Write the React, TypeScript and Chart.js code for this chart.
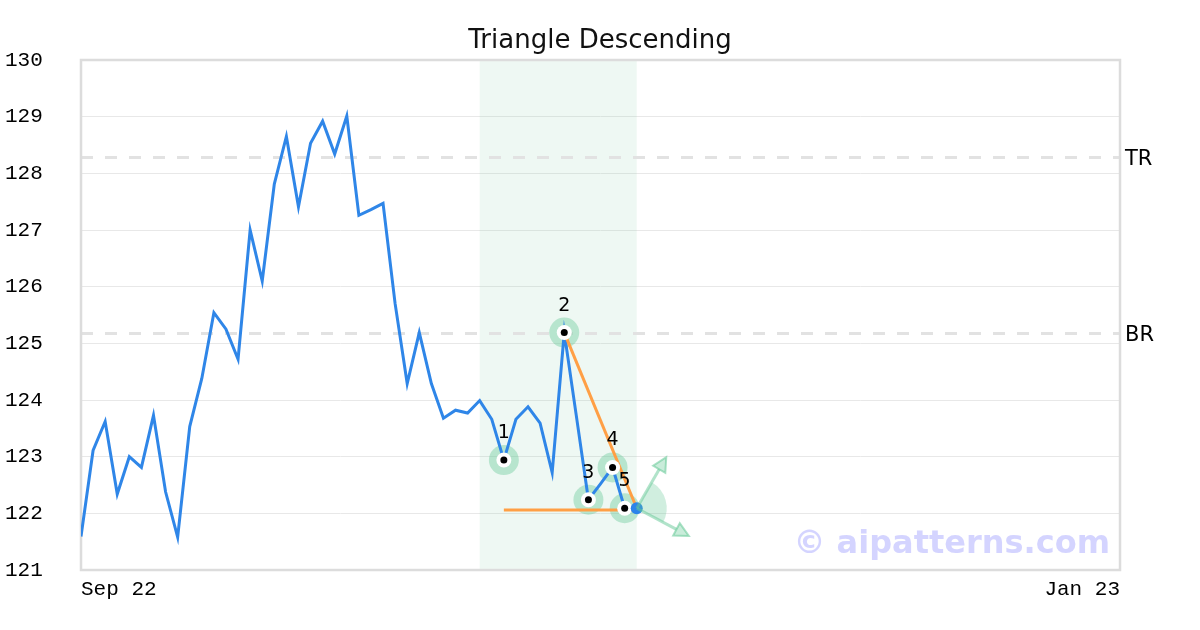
import React, { useEffect, useRef } from "react";
import { Chart, registerables } from "chart.js";

Chart.register(...registerables);

// ---- data ----
const titleText = "Triangle Descending";
const xTickLabels = ["Sep 22", "Jan 23"];
const xTickIndex = [0, 86];
const xMaxIndex = 86;
const yMin = 121;
const yMax = 130;

const prices = [
  121.59, 123.11, 123.62, 122.34, 123.0, 122.81, 123.73, 122.38, 121.58, 123.53,
  124.38, 125.54, 125.25, 124.72, 127.0, 126.1, 127.81, 128.65, 127.41, 128.53,
  128.92, 128.34, 129.01, 127.26, 127.36, 127.47, 125.7, 124.29, 125.19, 124.29,
  123.68, 123.82, 123.77, 123.99, 123.66, 122.94, 123.66, 123.88, 123.59, 122.72,
  125.19, 123.72, 122.24, 122.52, 122.81, 122.09, 122.09,
];

const patternIndex = [35, 40, 42, 44, 45];
const patternLabels = ["1", "2", "3", "4", "5"];

const supportIdx = [35, 46];
const supportVal = [122.06, 122.06];
const resistanceIdx = [40, 46];
const resistanceVal = [125.19, 122.09];

const levelValues = [128.29, 125.18];
const levelLabels = ["TR", "BR"];

const shadeRange = [33, 46];
const watermark = "© aipatterns.com";

// ---- derived ----
const priceData = prices.map((v, i) => ({ x: i, y: v }));
const patternData = patternIndex.map((i) => ({ x: i, y: prices[i] }));
const lastIdx = prices.length - 1;
const lastData = [{ x: lastIdx, y: prices[lastIdx] }];
const supportData = supportIdx.map((i, k) => ({ x: i, y: supportVal[k] }));
const resistanceData = resistanceIdx.map((i, k) => ({ x: i, y: resistanceVal[k] }));

const GREEN = "100,200,150";

function drawArrow(ctx: CanvasRenderingContext2D, x0: number, y0: number, angDeg: number, len: number) {
  const a = (angDeg * Math.PI) / 180;
  const x1 = x0 + Math.cos(a) * len;
  const y1 = y0 + Math.sin(a) * len;
  const headLen = 14;
  const headW = 7;
  const bx = x1 - Math.cos(a) * headLen;
  const by = y1 - Math.sin(a) * headLen;
  ctx.strokeStyle = `rgba(${GREEN},0.5)`;
  ctx.lineWidth = 3;
  ctx.beginPath();
  ctx.moveTo(x0, y0);
  ctx.lineTo(bx, by);
  ctx.stroke();
  const nx = -Math.sin(a);
  const ny = Math.cos(a);
  ctx.beginPath();
  ctx.moveTo(x1, y1);
  ctx.lineTo(bx + nx * headW, by + ny * headW);
  ctx.lineTo(bx - nx * headW, by - ny * headW);
  ctx.closePath();
  ctx.fillStyle = `rgba(${GREEN},0.35)`;
  ctx.fill();
  ctx.lineWidth = 2;
  ctx.strokeStyle = `rgba(${GREEN},0.55)`;
  ctx.stroke();
}

const overlayPlugin = {
  id: "overlay",
  beforeDatasetsDraw(chart: any) {
    const { ctx, chartArea, scales } = chart;
    const { left, right, top, bottom } = chartArea;
    const x = scales.x;
    const y = scales.y;
    ctx.save();
    const sx0 = x.getPixelForValue(shadeRange[0]);
    const sx1 = x.getPixelForValue(shadeRange[1]);
    ctx.fillStyle = `rgba(120,200,160,0.13)`;
    ctx.fillRect(sx0, top, sx1 - sx0, bottom - top);

    ctx.setLineDash([12, 12]);
    ctx.lineWidth = 3;
    ctx.strokeStyle = "#e2e2e2";
    levelValues.forEach((v) => {
      const py = Math.round(y.getPixelForValue(v)) + 0.5;
      ctx.beginPath();
      ctx.moveTo(left, py);
      ctx.lineTo(right, py);
      ctx.stroke();
    });
    ctx.setLineDash([]);

    ctx.strokeStyle = "#dcdcdc";
    ctx.lineWidth = 2.5;
    ctx.strokeRect(left, top, right - left, bottom - top);
    ctx.restore();
  },
  afterDatasetsDraw(chart: any) {
    const { ctx, scales } = chart;
    const x = scales.x;
    const y = scales.y;
    ctx.save();
    const px = x.getPixelForValue(lastIdx);
    const py = y.getPixelForValue(prices[lastIdx]);
    const a0 = (-60 * Math.PI) / 180;
    const a1 = (28 * Math.PI) / 180;
    ctx.beginPath();
    ctx.moveTo(px, py);
    ctx.arc(px, py, 30, a0, a1);
    ctx.closePath();
    ctx.fillStyle = `rgba(${GREEN},0.3)`;
    ctx.fill();
    drawArrow(ctx, px, py, -60, 59);
    drawArrow(ctx, px, py, 28, 59);

    ctx.fillStyle = "#000";
    ctx.font = "19px 'DejaVu Sans'";
    ctx.textAlign = "center";
    ctx.textBaseline = "alphabetic";
    patternIndex.forEach((i, k) => {
      const lx = x.getPixelForValue(i);
      const ly = y.getPixelForValue(prices[i]);
      ctx.fillText(patternLabels[k], lx, ly - 22);
    });
    ctx.restore();
  },
  afterDraw(chart: any) {
    const { ctx, chartArea, scales } = chart;
    const y = scales.y;
    ctx.save();
    ctx.fillStyle = "#111";
    ctx.font = "26px 'DejaVu Sans'";
    ctx.textAlign = "center";
    ctx.textBaseline = "alphabetic";
    ctx.fillText(titleText, chart.width / 2, 48);

    ctx.font = "21px 'DejaVu Sans'";
    ctx.textAlign = "left";
    ctx.fillStyle = "#000";
    levelValues.forEach((v, k) => {
      const py = y.getPixelForValue(v);
      ctx.fillText(levelLabels[k], chartArea.right + 5, py + 8);
    });

    ctx.font = "bold 32px 'DejaVu Sans'";
    ctx.textAlign = "right";
    ctx.fillStyle = "rgba(170,170,255,0.5)";
    ctx.fillText(watermark, chartArea.right - 10, 553);
    ctx.restore();
  },
};

export default function App() {
  const ref = useRef<HTMLCanvasElement>(null);
  useEffect(() => {
    const chart = new Chart(ref.current as HTMLCanvasElement, {
      type: "line",
      data: {
        datasets: [
          {
            label: "circles",
            data: patternData,
            showLine: false,
            pointRadius: 15,
            pointBorderWidth: 0,
            pointBackgroundColor: `rgba(${GREEN},0.4)`,
            order: 10,
          } as any,
          {
            label: "price",
            data: priceData,
            borderColor: "#2f86e8",
            borderWidth: 3,
            pointRadius: 0,
            tension: 0,
            order: 8,
          },
          {
            label: "support",
            data: supportData,
            borderColor: "#ff9f45",
            borderWidth: 3,
            pointRadius: 0,
            order: 6,
          },
          {
            label: "resistance",
            data: resistanceData,
            borderColor: "#ff9f45",
            borderWidth: 3,
            pointRadius: 0,
            order: 6,
          },
          {
            label: "rings",
            data: patternData,
            showLine: false,
            pointRadius: 7.5,
            pointBorderWidth: 0,
            pointBackgroundColor: "#ffffff",
            order: 4,
          } as any,
          {
            label: "dots",
            data: patternData,
            showLine: false,
            pointRadius: 3.5,
            pointBorderWidth: 0,
            pointBackgroundColor: "#000000",
            order: 3,
          } as any,
          {
            label: "last",
            data: lastData,
            showLine: false,
            pointRadius: 6,
            pointBorderWidth: 0,
            pointBackgroundColor: "#2b84ea",
            order: 2,
          } as any,
        ],
      },
      options: {
        responsive: false,
        animation: false,
        devicePixelRatio: 1,
        events: [],
        layout: { padding: { top: 60, right: 80, left: 5, bottom: 0 } },
        plugins: {
          legend: { display: false },
          tooltip: { enabled: false },
          title: { display: false },
        },
        scales: {
          x: {
            type: "linear",
            min: 0,
            max: xMaxIndex,
            grid: { display: false, drawTicks: false },
            border: { display: false },
            afterBuildTicks: (s: any) => {
              s.ticks = xTickIndex.map((v) => ({ value: v }));
            },
            afterFit: (s: any) => {
              s.height = 60;
            },
            ticks: {
              autoSkip: false,
              maxRotation: 0,
              align: "inner",
              padding: 7,
              color: "#000",
              font: { family: "'Liberation Mono'", size: 21 },
              callback: (v: any) => {
                const k = xTickIndex.indexOf(Number(v));
                return k >= 0 ? xTickLabels[k] : "";
              },
            },
          },
          y: {
            min: yMin,
            max: yMax,
            grid: { color: "#e8e8e8", lineWidth: 1, drawTicks: false },
            border: { display: false },
            afterFit: (s: any) => {
              s.width = 76;
            },
            ticks: {
              stepSize: 1,
              crossAlign: "far",
              color: "#000",
              font: { family: "'Liberation Mono'", size: 21 },
            },
          },
        },
      } as any,
      plugins: [overlayPlugin],
    });
    return () => chart.destroy();
  }, []);
  return (
    <div style={{ position: "fixed", left: 0, top: 0, width: 1200, height: 630, background: "#fff" }}>
      <canvas ref={ref} width={1200} height={630} style={{ display: "block", width: 1200, height: 630 }} />
    </div>
  );
}
